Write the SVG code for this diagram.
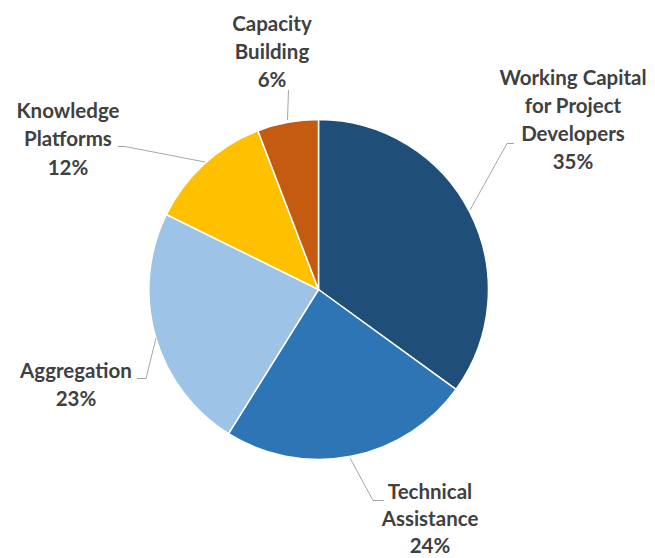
<svg xmlns="http://www.w3.org/2000/svg" width="655" height="558" viewBox="0 0 655 558">
<style>
.lbl{font-family:Lato,"Open Sans","Liberation Sans",sans-serif;font-weight:700;font-size:20.5px;fill:#404040;text-anchor:middle}
.sl{stroke:#ffffff;stroke-width:1.5;stroke-linejoin:round}
.ld{fill:none;stroke:#a6a6a6;stroke-width:1}
</style>
<rect width="655" height="558" fill="#ffffff"/>
<g id="slices">
<g id="working-capital"><path class="sl" fill="#1F4E79" d="M318.5,289.5 L318.5,119.5 A170,170 0 0 1 456.0,389.4 Z"/></g>
<g id="technical-assistance"><path class="sl" fill="#2E75B6" d="M318.5,289.5 L456.0,389.4 A170,170 0 0 1 228.5,433.7 Z"/></g>
<g id="aggregation"><path class="sl" fill="#9DC3E6" d="M318.5,289.5 L228.5,433.7 A170,170 0 0 1 166.4,214.5 Z"/></g>
<g id="knowledge-platforms"><path class="sl" fill="#FFC000" d="M318.5,289.5 L166.4,214.5 A170,170 0 0 1 257.9,130.7 Z"/></g>
<g id="capacity-building"><path class="sl" fill="#C55A11" d="M318.5,289.5 L257.9,130.7 A170,170 0 0 1 318.5,119.5 Z"/></g>
</g>
<g id="connectors">
<polyline class="ld" points="288.5,90 287.5,120"/>
<polyline class="ld" points="118,146.5 125,146.5 205,162"/>
<polyline class="ld" points="514,143.5 507,143.5 470,210"/>
<polyline class="ld" points="137,378.5 146,378.5 156,338"/>
<polyline class="ld" points="384,500.5 373,500.5 350,458"/>
</g>
<g id="label-capacity"><text class="lbl" x="272" y="31">Capacity</text><text class="lbl" x="272" y="59">Building</text><text class="lbl" x="272" y="87">6%</text></g>
<g id="label-knowledge"><text class="lbl" x="68" y="118">Knowledge</text><text class="lbl" x="68" y="146">Platforms</text><text class="lbl" x="68" y="175">12%</text></g>
<g id="label-working"><text class="lbl" x="573" y="85">Working Capital</text><text class="lbl" x="573" y="113">for Project</text><text class="lbl" x="573" y="141">Developers</text><text class="lbl" x="573" y="169">35%</text></g>
<g id="label-aggregation"><text class="lbl" x="76" y="378">Aggregation</text><text class="lbl" x="76" y="406">23%</text></g>
<g id="label-technical"><text class="lbl" x="430" y="499">Technical</text><text class="lbl" x="430" y="526">Assistance</text><text class="lbl" x="430" y="553">24%</text></g>
</svg>
